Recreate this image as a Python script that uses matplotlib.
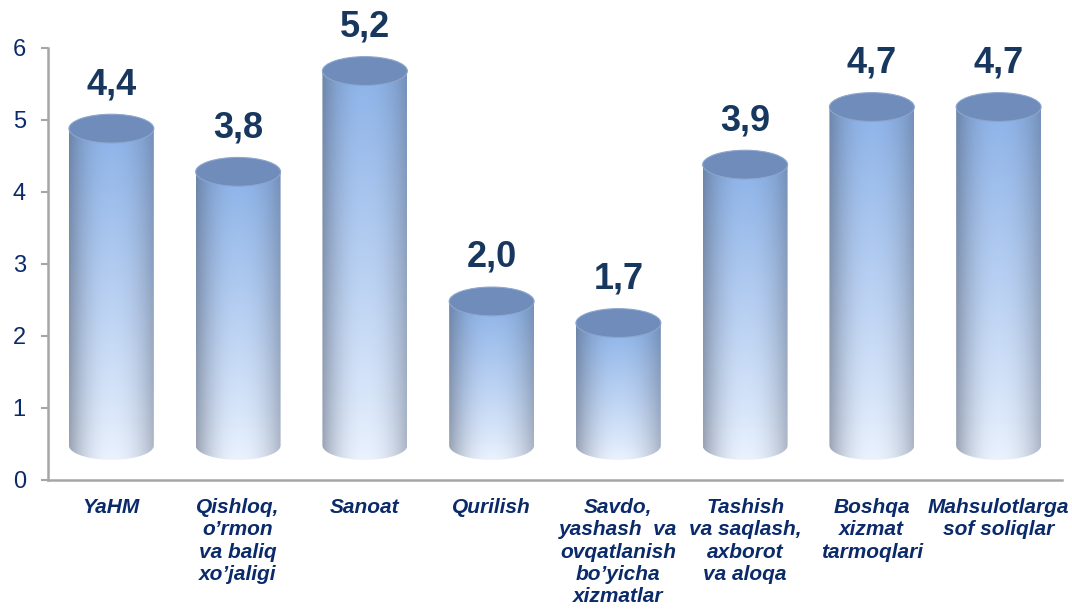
import numpy as np
import matplotlib
matplotlib.use("Agg")
import matplotlib.pyplot as plt
from matplotlib.patches import Ellipse, PathPatch
from matplotlib.path import Path

plt.rcParams['font.family'] = ['Liberation Sans', 'DejaVu Sans']

categories = [
    "YaHM",
    "Qishloq,\no’rmon\nva baliq\nxo’jaligi",
    "Sanoat",
    "Qurilish",
    "Savdo,\nyashash  va\novqatlanish\nbo’yicha\nxizmatlar",
    "Tashish\nva saqlash,\naxborot\nva aloqa",
    "Boshqa\nxizmat\ntarmoqlari",
    "Mahsulotlarga\nsof soliqlar",
]
values = [4.4, 3.8, 5.2, 2.0, 1.7, 3.9, 4.7, 4.7]
value_labels = ["4,4", "3,8", "5,2", "2,0", "1,7", "3,9", "4,7", "4,7"]
yticks = [0, 1, 2, 3, 4, 5, 6]

# style constants
BAR_W = 0.67
DEPTH = 0.48      # 3D floor offset
EH = 0.2          # ellipse half-height (data units)
GRAY = "#A6A6A6"
NAVY = "#0A2A6A"
LABEL_NAVY = "#17375E"

fig = plt.figure(figsize=(10.72, 6.11), dpi=100)
ax = fig.add_axes([48/1072, 131/611, 1014/1072, 432/611])

def body_image(ny=200, nx=120):
    u = np.linspace(0, 1, nx)[None, :]
    v = np.linspace(0, 1, ny)[:, None]
    bottom = np.array([0.92, 0.95, 0.995])
    top = np.array([0.55, 0.70, 0.91])
    t = v ** 0.9
    base = bottom[None, None, :] * (1 - t[..., None]) + top[None, None, :] * t[..., None]
    c = 0.5
    left = np.clip((c - u) / c, 0, 1)
    right = np.clip((u - c) / (1 - c), 0, 1)
    shade = 1 - 0.50 * left ** 2.2 - 0.38 * right ** 2.2
    edge = np.array([0.30, 0.34, 0.42])
    s = shade[..., None]
    img = base * s + edge[None, None, :] * (1 - s)
    img = np.broadcast_to(img, (ny, nx, 3)).copy()
    return np.clip(img, 0, 1)

IMG = body_image()

for i, v in enumerate(values):
    x0, x1 = i - BAR_W / 2, i + BAR_W / 2
    base = DEPTH
    top = v + DEPTH
    th = np.linspace(np.pi, 2 * np.pi, 60)
    verts = [(x0, top), (x0, base)]
    verts += [(i + BAR_W / 2 * np.cos(a), base + EH * np.sin(a)) for a in th]
    verts += [(x1, top), (x0, top)]
    codes = [Path.MOVETO] + [Path.LINETO] * (len(verts) - 2) + [Path.CLOSEPOLY]
    clip = PathPatch(Path(verts, codes), facecolor="none", edgecolor="none", transform=ax.transData)
    ax.add_patch(clip)
    im = ax.imshow(IMG, extent=(x0, x1, base - EH, top), origin="lower",
                   aspect="auto", interpolation="bilinear", zorder=2)
    im.set_clip_path(clip)
    ax.add_patch(Ellipse((i, top), BAR_W, 2 * EH, facecolor="#6F8CBA",
                         edgecolor="#8CA6CE", linewidth=0.8, zorder=3))
    ax.text(i, top + EH + 0.28, value_labels[i], ha="center", va="baseline",
            fontsize=26, fontweight="bold", color=LABEL_NAVY, clip_on=False, zorder=4)

ax.set_xlim(-0.5, len(values) - 0.5)
ax.set_ylim(0, 6)
ax.set_yticks(yticks)
ax.set_yticklabels([str(t) for t in yticks])
ax.set_xticks(range(len(categories)))
ax.set_xticklabels(categories, fontsize=15, fontweight="bold", style="italic",
                   color=NAVY, linespacing=1.22, va="top")
ax.tick_params(axis="x", length=0, pad=13)
ax.tick_params(axis="y", length=5, width=1.5, color=GRAY, pad=11,
               labelsize=17, labelcolor=NAVY)
for s in ["top", "right"]:
    ax.spines[s].set_visible(False)
for s in ["left", "bottom"]:
    ax.spines[s].set_color(GRAY)
    ax.spines[s].set_linewidth(1.8)

fig.savefig("out.png", dpi=100)
